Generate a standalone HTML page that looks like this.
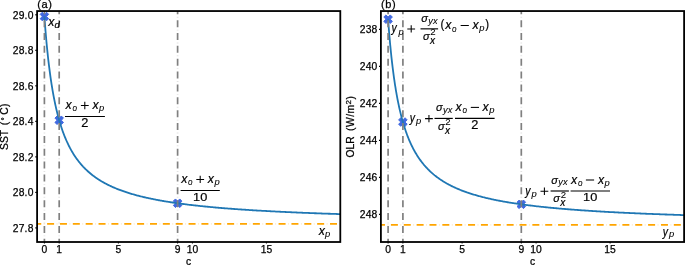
<!DOCTYPE html>
<html><head><meta charset="utf-8"><style>html,body{margin:0;padding:0;background:#fff;overflow:hidden}svg{display:block}text{stroke:#000;stroke-width:0.25px}.m text{stroke-width:0.2px}.m line,.m path{stroke:#000}</style></head>
<body><div style="will-change:transform">
<svg width="685" height="265" viewBox="0 0 685 265" font-family="&quot;Liberation Sans&quot;, sans-serif" stroke-linejoin="round">
<rect width="685" height="265" fill="#fff"/>
<clipPath id="clipa"><rect x="37.1" y="11.05" width="303.2" height="230.95"/></clipPath>
<g clip-path="url(#clipa)">
<line x1="34.24" y1="223.85" x2="355.30" y2="223.85" stroke="#ffa500" stroke-width="1.9" stroke-dasharray="7.0 5.86" stroke-dashoffset="0.00"/>
<line x1="34.24" y1="223.85" x2="355.30" y2="223.85" stroke="#ffa500" stroke-width="1.9" stroke-opacity="0.22" stroke-dasharray="0.9 11.96" stroke-dashoffset="-9.48"/>
<polygon points="46.54,12.21 48.69,14.36 46.54,16.50 48.69,18.64 46.54,20.79 44.40,18.64 42.26,20.79 40.11,18.64 42.26,16.50 40.11,14.36 42.26,12.21 44.40,14.36" fill="#4169e1" stroke="#4169e1" stroke-width="1.0" stroke-linejoin="round"/>
<polygon points="61.34,115.96 63.49,118.11 61.34,120.25 63.49,122.39 61.34,124.54 59.20,122.39 57.06,124.54 54.91,122.39 57.06,120.25 54.91,118.11 57.06,115.96 59.20,118.11" fill="#4169e1" stroke="#4169e1" stroke-width="1.0" stroke-linejoin="round"/>
<polygon points="179.74,198.96 181.89,201.11 179.74,203.25 181.89,205.39 179.74,207.54 177.60,205.39 175.46,207.54 173.31,205.39 175.46,203.25 173.31,201.11 175.46,198.96 177.60,201.11" fill="#4169e1" stroke="#4169e1" stroke-width="1.0" stroke-linejoin="round"/>
<polyline points="44.40,16.50 44.42,16.78 44.46,17.36 44.52,18.14 44.59,19.09 44.67,20.18 44.76,21.39 44.86,22.72 44.97,24.15 45.08,25.66 45.21,27.26 45.34,28.92 45.48,30.65 45.63,32.44 45.79,34.27 45.95,36.15 46.12,38.06 46.29,40.01 46.47,41.98 46.66,43.98 46.85,46.00 47.05,48.03 47.26,50.07 47.47,52.12 47.68,54.18 47.91,56.23 48.13,58.29 48.36,60.34 48.60,62.38 48.84,64.42 49.09,66.45 49.35,68.47 49.60,70.47 49.87,72.46 50.13,74.43 50.40,76.39 50.68,78.33 50.96,80.25 51.25,82.15 51.54,84.03 51.84,85.89 52.13,87.72 52.44,89.54 52.75,91.33 53.06,93.10 53.38,94.84 53.70,96.56 54.02,98.26 54.35,99.94 54.69,101.59 55.03,103.22 55.37,104.82 55.71,106.40 56.06,107.95 56.42,109.49 56.78,111.00 57.14,112.48 57.50,113.94 57.87,115.38 58.25,116.80 58.62,118.19 59.01,119.56 59.39,120.91 59.78,122.24 60.17,123.55 60.57,124.83 60.97,126.10 61.37,127.34 61.78,128.56 62.19,129.77 62.60,130.95 63.02,132.11 63.44,133.26 63.87,134.38 64.30,135.49 64.73,136.58 65.16,137.65 65.60,138.70 66.04,139.73 66.49,140.75 66.94,141.75 67.39,142.74 67.85,143.71 68.31,144.66 68.77,145.60 69.24,146.52 69.70,147.42 70.18,148.32 70.65,149.19 71.13,150.06 71.61,150.90 72.10,151.74 72.59,152.56 73.08,153.37 73.57,154.16 74.07,154.95 74.57,155.72 75.08,156.47 75.59,157.22 76.10,157.95 76.61,158.67 77.13,159.38 77.65,160.08 78.17,160.77 78.70,161.45 79.23,162.12 79.76,162.77 80.29,163.42 80.83,164.06 81.37,164.68 81.92,165.30 82.46,165.91 83.01,166.51 83.57,167.09 84.12,167.68 84.68,168.25 85.24,168.81 85.81,169.36 86.38,169.91 86.95,170.45 87.52,170.98 88.10,171.50 88.68,172.02 89.26,172.52 89.84,173.02 90.43,173.52 91.02,174.00 91.62,174.48 92.21,174.95 92.81,175.42 93.41,175.87 94.02,176.33 94.62,176.77 95.23,177.21 95.85,177.64 96.46,178.07 97.08,178.49 97.70,178.91 98.33,179.32 98.95,179.72 99.58,180.12 100.21,180.51 100.85,180.90 101.49,181.28 102.13,181.66 102.77,182.03 103.41,182.40 104.06,182.76 104.71,183.12 105.37,183.47 106.02,183.82 106.68,184.16 107.34,184.50 108.01,184.83 108.67,185.16 109.34,185.49 110.01,185.81 110.69,186.13 111.36,186.44 112.04,186.75 112.73,187.06 113.41,187.36 114.10,187.66 114.79,187.95 115.48,188.24 116.17,188.53 116.87,188.81 117.57,189.09 118.27,189.37 118.98,189.64 119.69,189.91 120.40,190.18 121.11,190.44 121.82,190.70 122.54,190.96 123.26,191.21 123.98,191.46 124.71,191.71 125.43,191.96 126.16,192.20 126.90,192.44 127.63,192.67 128.37,192.91 129.11,193.14 129.85,193.37 130.59,193.59 131.34,193.82 132.09,194.04 132.84,194.25 133.59,194.47 134.35,194.68 135.11,194.89 135.87,195.10 136.63,195.31 137.40,195.51 138.17,195.71 138.94,195.91 139.71,196.11 140.49,196.30 141.26,196.50 142.04,196.69 142.83,196.88 143.61,197.06 144.40,197.25 145.19,197.43 145.98,197.61 146.77,197.79 147.57,197.97 148.37,198.14 149.17,198.32 149.97,198.49 150.78,198.66 151.58,198.82 152.39,198.99 153.21,199.16 154.02,199.32 154.84,199.48 155.66,199.64 156.48,199.80 157.30,199.95 158.13,200.11 158.96,200.26 159.79,200.41 160.62,200.56 161.46,200.71 162.29,200.86 163.13,201.00 163.97,201.15 164.82,201.29 165.66,201.43 166.51,201.57 167.36,201.71 168.22,201.85 169.07,201.98 169.93,202.12 170.79,202.25 171.65,202.38 172.51,202.51 173.38,202.64 174.25,202.77 175.12,202.90 175.99,203.02 176.86,203.15 177.74,203.27 178.62,203.39 179.50,203.51 180.39,203.63 181.27,203.75 182.16,203.87 183.05,203.99 183.94,204.10 184.83,204.22 185.73,204.33 186.63,204.44 187.53,204.55 188.43,204.67 189.34,204.77 190.24,204.88 191.15,204.99 192.06,205.10 192.98,205.20 193.89,205.31 194.81,205.41 195.73,205.51 196.65,205.62 197.58,205.72 198.50,205.82 199.43,205.92 200.36,206.02 201.29,206.11 202.23,206.21 203.16,206.31 204.10,206.40 205.04,206.50 205.98,206.59 206.93,206.68 207.87,206.77 208.82,206.86 209.77,206.96 210.73,207.05 211.68,207.13 212.64,207.22 213.60,207.31 214.56,207.40 215.52,207.48 216.49,207.57 217.45,207.65 218.42,207.74 219.39,207.82 220.37,207.90 221.34,207.98 222.32,208.06 223.30,208.15 224.28,208.23 225.26,208.30 226.25,208.38 227.24,208.46 228.23,208.54 229.22,208.62 230.21,208.69 231.21,208.77 232.20,208.84 233.20,208.92 234.20,208.99 235.21,209.06 236.21,209.14 237.22,209.21 238.23,209.28 239.24,209.35 240.25,209.42 241.27,209.49 242.28,209.56 243.30,209.63 244.32,209.70 245.35,209.77 246.37,209.83 247.40,209.90 248.43,209.97 249.46,210.03 250.49,210.10 251.53,210.16 252.56,210.23 253.60,210.29 254.64,210.35 255.68,210.42 256.73,210.48 257.78,210.54 258.82,210.60 259.87,210.66 260.93,210.72 261.98,210.78 263.04,210.84 264.09,210.90 265.15,210.96 266.21,211.02 267.28,211.08 268.34,211.14 269.41,211.19 270.48,211.25 271.55,211.31 272.62,211.36 273.70,211.42 274.78,211.47 275.85,211.53 276.94,211.58 278.02,211.64 279.10,211.69 280.19,211.74 281.28,211.80 282.37,211.85 283.46,211.90 284.55,211.95 285.65,212.01 286.75,212.06 287.85,212.11 288.95,212.16 290.05,212.21 291.15,212.26 292.26,212.31 293.37,212.36 294.48,212.41 295.59,212.45 296.71,212.50 297.82,212.55 298.94,212.60 300.06,212.65 301.18,212.69 302.31,212.74 303.43,212.79 304.56,212.83 305.69,212.88 306.82,212.92 307.95,212.97 309.09,213.01 310.22,213.06 311.36,213.10 312.50,213.14 313.64,213.19 314.79,213.23 315.93,213.27 317.08,213.32 318.23,213.36 319.38,213.40 320.53,213.44 321.68,213.49 322.84,213.53 324.00,213.57 325.16,213.61 326.32,213.65 327.48,213.69 328.65,213.73 329.82,213.77 330.98,213.81 332.16,213.85 333.33,213.89 334.50,213.93 335.68,213.97 336.86,214.01 338.04,214.04 339.22,214.08 340.40,214.12" fill="none" stroke="#1f77b4" stroke-width="1.8" stroke-linejoin="round"/>
<line x1="44.40" y1="7.29" x2="44.40" y2="257.00" stroke="#808080" stroke-width="1.7" stroke-dasharray="7.0 5.86" stroke-dashoffset="0.00"/>
<line x1="44.40" y1="7.29" x2="44.40" y2="257.00" stroke="#808080" stroke-width="1.7" stroke-opacity="0.22" stroke-dasharray="0.9 11.96" stroke-dashoffset="-9.48"/>
<line x1="59.20" y1="7.29" x2="59.20" y2="257.00" stroke="#808080" stroke-width="1.7" stroke-dasharray="7.0 5.86" stroke-dashoffset="0.00"/>
<line x1="59.20" y1="7.29" x2="59.20" y2="257.00" stroke="#808080" stroke-width="1.7" stroke-opacity="0.22" stroke-dasharray="0.9 11.96" stroke-dashoffset="-9.48"/>
<line x1="177.60" y1="7.29" x2="177.60" y2="257.00" stroke="#808080" stroke-width="1.7" stroke-dasharray="7.0 5.86" stroke-dashoffset="0.00"/>
<line x1="177.60" y1="7.29" x2="177.60" y2="257.00" stroke="#808080" stroke-width="1.7" stroke-opacity="0.22" stroke-dasharray="0.9 11.96" stroke-dashoffset="-9.48"/>
</g>
<rect x="37.1" y="11.05" width="303.2" height="230.95" fill="none" stroke="#000" stroke-width="1.8" stroke-linejoin="miter"/>
<line x1="35.2" y1="14.8" x2="37.1" y2="14.8" stroke="#000" stroke-width="1.1"/>
<text x="33.60" y="18.50" font-size="10.3" text-anchor="end" letter-spacing="0.2">29.0</text>
<line x1="35.2" y1="50.32000000000001" x2="37.1" y2="50.32000000000001" stroke="#000" stroke-width="1.1"/>
<text x="33.60" y="54.02" font-size="10.3" text-anchor="end" letter-spacing="0.2">28.8</text>
<line x1="35.2" y1="85.84" x2="37.1" y2="85.84" stroke="#000" stroke-width="1.1"/>
<text x="33.60" y="89.54" font-size="10.3" text-anchor="end" letter-spacing="0.2">28.6</text>
<line x1="35.2" y1="121.36" x2="37.1" y2="121.36" stroke="#000" stroke-width="1.1"/>
<text x="33.60" y="125.06" font-size="10.3" text-anchor="end" letter-spacing="0.2">28.4</text>
<line x1="35.2" y1="156.88000000000002" x2="37.1" y2="156.88000000000002" stroke="#000" stroke-width="1.1"/>
<text x="33.60" y="160.58" font-size="10.3" text-anchor="end" letter-spacing="0.2">28.2</text>
<line x1="35.2" y1="192.40000000000003" x2="37.1" y2="192.40000000000003" stroke="#000" stroke-width="1.1"/>
<text x="33.60" y="196.10" font-size="10.3" text-anchor="end" letter-spacing="0.2">28.0</text>
<line x1="35.2" y1="227.92000000000002" x2="37.1" y2="227.92000000000002" stroke="#000" stroke-width="1.1"/>
<text x="33.60" y="231.62" font-size="10.3" text-anchor="end" letter-spacing="0.2">27.8</text>
<line x1="44.40" y1="242.0" x2="44.40" y2="243.5" stroke="#000" stroke-width="1"/>
<text x="44.40" y="253.20" font-size="10.3" text-anchor="middle">0</text>
<line x1="59.20" y1="242.0" x2="59.20" y2="243.5" stroke="#000" stroke-width="1"/>
<text x="59.20" y="253.20" font-size="10.3" text-anchor="middle">1</text>
<line x1="118.40" y1="242.0" x2="118.40" y2="243.5" stroke="#000" stroke-width="1"/>
<text x="118.40" y="253.20" font-size="10.3" text-anchor="middle">5</text>
<line x1="177.60" y1="242.0" x2="177.60" y2="243.5" stroke="#000" stroke-width="1"/>
<text x="177.60" y="253.20" font-size="10.3" text-anchor="middle">9</text>
<line x1="192.40" y1="242.0" x2="192.40" y2="243.5" stroke="#000" stroke-width="1"/>
<text x="192.40" y="253.20" font-size="10.3" text-anchor="middle">10</text>
<line x1="266.40" y1="242.0" x2="266.40" y2="243.5" stroke="#000" stroke-width="1"/>
<text x="266.40" y="253.20" font-size="10.3" text-anchor="middle">15</text>
<text x="188.70" y="264.90" font-size="10.3" text-anchor="middle">c</text>
<text x="37.30" y="7.80" font-size="11" letter-spacing="0.6">(a)</text>
<text transform="translate(8.4,149.9) rotate(-90)" font-size="10.3">SST</text>
<text transform="translate(8.4,103.0) rotate(-90)" font-size="10.3" text-anchor="end" letter-spacing="0.5">(<tspan font-size="8" dx="1" dy="-1.2">°</tspan><tspan dx="1.8" dy="1.2">C)</tspan></text>
<clipPath id="clipb"><rect x="380.9" y="11.05" width="303.20000000000005" height="230.95"/></clipPath>
<g clip-path="url(#clipb)">
<line x1="378.04" y1="224.90" x2="699.10" y2="224.90" stroke="#ffa500" stroke-width="1.9" stroke-dasharray="7.0 5.86" stroke-dashoffset="0.00"/>
<line x1="378.04" y1="224.90" x2="699.10" y2="224.90" stroke="#ffa500" stroke-width="1.9" stroke-opacity="0.22" stroke-dasharray="0.9 11.96" stroke-dashoffset="-9.48"/>
<polygon points="390.24,14.91 392.39,17.06 390.24,19.20 392.39,21.34 390.24,23.49 388.10,21.34 385.96,23.49 383.81,21.34 385.96,19.20 383.81,17.06 385.96,14.91 388.10,17.06" fill="#4169e1" stroke="#4169e1" stroke-width="1.0" stroke-linejoin="round"/>
<polygon points="405.04,117.76 407.19,119.91 405.04,122.05 407.19,124.19 405.04,126.34 402.90,124.19 400.76,126.34 398.61,124.19 400.76,122.05 398.61,119.91 400.76,117.76 402.90,119.91" fill="#4169e1" stroke="#4169e1" stroke-width="1.0" stroke-linejoin="round"/>
<polygon points="523.44,200.04 525.59,202.19 523.44,204.33 525.59,206.47 523.44,208.62 521.30,206.47 519.16,208.62 517.01,206.47 519.16,204.33 517.01,202.19 519.16,200.04 521.30,202.19" fill="#4169e1" stroke="#4169e1" stroke-width="1.0" stroke-linejoin="round"/>
<polyline points="388.10,19.20 388.12,19.48 388.16,20.05 388.22,20.83 388.29,21.76 388.37,22.84 388.46,24.05 388.56,25.36 388.67,26.78 388.78,28.28 388.91,29.86 389.04,31.51 389.18,33.23 389.33,35.00 389.49,36.82 389.65,38.68 389.82,40.58 389.99,42.51 390.17,44.46 390.36,46.44 390.55,48.44 390.75,50.46 390.96,52.48 391.17,54.51 391.38,56.55 391.61,58.59 391.83,60.63 392.06,62.66 392.30,64.69 392.54,66.71 392.79,68.72 393.05,70.72 393.30,72.70 393.57,74.68 393.83,76.63 394.10,78.57 394.38,80.49 394.66,82.40 394.95,84.28 395.24,86.14 395.54,87.98 395.83,89.80 396.14,91.60 396.45,93.38 396.76,95.13 397.08,96.86 397.40,98.57 397.72,100.25 398.05,101.91 398.39,103.55 398.73,105.16 399.07,106.75 399.41,108.32 399.76,109.86 400.12,111.38 400.48,112.88 400.84,114.35 401.20,115.80 401.57,117.22 401.95,118.63 402.32,120.01 402.71,121.37 403.09,122.71 403.48,124.02 403.87,125.32 404.27,126.59 404.67,127.85 405.07,129.08 405.48,130.29 405.89,131.48 406.30,132.66 406.72,133.81 407.14,134.94 407.57,136.06 408.00,137.16 408.43,138.24 408.86,139.30 409.30,140.34 409.74,141.37 410.19,142.38 410.64,143.37 411.09,144.34 411.55,145.30 412.01,146.25 412.47,147.18 412.94,148.09 413.40,148.99 413.88,149.87 414.35,150.74 414.83,151.60 415.31,152.44 415.80,153.27 416.29,154.08 416.78,154.88 417.27,155.67 417.77,156.45 418.27,157.21 418.78,157.96 419.29,158.70 419.80,159.43 420.31,160.14 420.83,160.84 421.35,161.54 421.87,162.22 422.40,162.89 422.93,163.55 423.46,164.20 423.99,164.85 424.53,165.48 425.07,166.10 425.62,166.71 426.16,167.31 426.71,167.90 427.27,168.49 427.82,169.06 428.38,169.63 428.94,170.19 429.51,170.74 430.08,171.28 430.65,171.81 431.22,172.34 431.80,172.86 432.38,173.37 432.96,173.87 433.54,174.37 434.13,174.85 434.72,175.34 435.32,175.81 435.91,176.28 436.51,176.74 437.11,177.19 437.72,177.64 438.32,178.08 438.93,178.52 439.55,178.95 440.16,179.37 440.78,179.79 441.40,180.20 442.03,180.60 442.65,181.00 443.28,181.40 443.91,181.79 444.55,182.17 445.19,182.55 445.83,182.92 446.47,183.29 447.11,183.66 447.76,184.02 448.41,184.37 449.07,184.72 449.72,185.06 450.38,185.40 451.04,185.74 451.71,186.07 452.37,186.40 453.04,186.72 453.71,187.04 454.39,187.36 455.06,187.67 455.74,187.97 456.43,188.28 457.11,188.58 457.80,188.87 458.49,189.16 459.18,189.45 459.87,189.74 460.57,190.02 461.27,190.29 461.97,190.57 462.68,190.84 463.39,191.11 464.10,191.37 464.81,191.63 465.52,191.89 466.24,192.14 466.96,192.40 467.68,192.64 468.41,192.89 469.13,193.13 469.86,193.37 470.60,193.61 471.33,193.84 472.07,194.08 472.81,194.31 473.55,194.53 474.29,194.76 475.04,194.98 475.79,195.20 476.54,195.41 477.29,195.63 478.05,195.84 478.81,196.05 479.57,196.25 480.33,196.46 481.10,196.66 481.87,196.86 482.64,197.06 483.41,197.25 484.19,197.45 484.96,197.64 485.74,197.83 486.53,198.01 487.31,198.20 488.10,198.38 488.89,198.56 489.68,198.74 490.47,198.92 491.27,199.09 492.07,199.27 492.87,199.44 493.67,199.61 494.48,199.78 495.28,199.94 496.09,200.11 496.91,200.27 497.72,200.43 498.54,200.59 499.36,200.75 500.18,200.91 501.00,201.06 501.83,201.21 502.66,201.37 503.49,201.52 504.32,201.66 505.16,201.81 505.99,201.96 506.83,202.10 507.67,202.24 508.52,202.39 509.36,202.53 510.21,202.66 511.06,202.80 511.92,202.94 512.77,203.07 513.63,203.21 514.49,203.34 515.35,203.47 516.21,203.60 517.08,203.73 517.95,203.85 518.82,203.98 519.69,204.10 520.56,204.23 521.44,204.35 522.32,204.47 523.20,204.59 524.09,204.71 524.97,204.83 525.86,204.94 526.75,205.06 527.64,205.18 528.53,205.29 529.43,205.40 530.33,205.51 531.23,205.62 532.13,205.73 533.04,205.84 533.94,205.95 534.85,206.06 535.76,206.16 536.68,206.27 537.59,206.37 538.51,206.47 539.43,206.57 540.35,206.68 541.28,206.78 542.20,206.88 543.13,206.97 544.06,207.07 544.99,207.17 545.93,207.26 546.86,207.36 547.80,207.45 548.74,207.55 549.68,207.64 550.63,207.73 551.57,207.82 552.52,207.91 553.47,208.00 554.43,208.09 555.38,208.18 556.34,208.27 557.30,208.35 558.26,208.44 559.22,208.53 560.19,208.61 561.15,208.69 562.12,208.78 563.09,208.86 564.07,208.94 565.04,209.02 566.02,209.10 567.00,209.18 567.98,209.26 568.96,209.34 569.95,209.42 570.94,209.50 571.93,209.57 572.92,209.65 573.91,209.72 574.91,209.80 575.90,209.87 576.90,209.95 577.90,210.02 578.91,210.09 579.91,210.17 580.92,210.24 581.93,210.31 582.94,210.38 583.95,210.45 584.97,210.52 585.98,210.59 587.00,210.65 588.02,210.72 589.05,210.79 590.07,210.86 591.10,210.92 592.13,210.99 593.16,211.05 594.19,211.12 595.23,211.18 596.26,211.25 597.30,211.31 598.34,211.37 599.38,211.43 600.43,211.50 601.48,211.56 602.52,211.62 603.57,211.68 604.63,211.74 605.68,211.80 606.74,211.86 607.79,211.92 608.85,211.98 609.91,212.03 610.98,212.09 612.04,212.15 613.11,212.21 614.18,212.26 615.25,212.32 616.32,212.37 617.40,212.43 618.48,212.48 619.55,212.54 620.64,212.59 621.72,212.65 622.80,212.70 623.89,212.75 624.98,212.80 626.07,212.86 627.16,212.91 628.25,212.96 629.35,213.01 630.45,213.06 631.55,213.11 632.65,213.16 633.75,213.21 634.85,213.26 635.96,213.31 637.07,213.36 638.18,213.41 639.29,213.45 640.41,213.50 641.52,213.55 642.64,213.60 643.76,213.64 644.88,213.69 646.01,213.74 647.13,213.78 648.26,213.83 649.39,213.87 650.52,213.92 651.65,213.96 652.79,214.01 653.92,214.05 655.06,214.10 656.20,214.14 657.34,214.18 658.49,214.22 659.63,214.27 660.78,214.31 661.93,214.35 663.08,214.39 664.23,214.44 665.38,214.48 666.54,214.52 667.70,214.56 668.86,214.60 670.02,214.64 671.18,214.68 672.35,214.72 673.52,214.76 674.68,214.80 675.86,214.84 677.03,214.88 678.20,214.92 679.38,214.95 680.56,214.99 681.74,215.03 682.92,215.07 684.10,215.10" fill="none" stroke="#1f77b4" stroke-width="1.8" stroke-linejoin="round"/>
<line x1="388.10" y1="7.29" x2="388.10" y2="257.00" stroke="#808080" stroke-width="1.7" stroke-dasharray="7.0 5.86" stroke-dashoffset="0.00"/>
<line x1="388.10" y1="7.29" x2="388.10" y2="257.00" stroke="#808080" stroke-width="1.7" stroke-opacity="0.22" stroke-dasharray="0.9 11.96" stroke-dashoffset="-9.48"/>
<line x1="402.90" y1="7.29" x2="402.90" y2="257.00" stroke="#808080" stroke-width="1.7" stroke-dasharray="7.0 5.86" stroke-dashoffset="0.00"/>
<line x1="402.90" y1="7.29" x2="402.90" y2="257.00" stroke="#808080" stroke-width="1.7" stroke-opacity="0.22" stroke-dasharray="0.9 11.96" stroke-dashoffset="-9.48"/>
<line x1="521.30" y1="7.29" x2="521.30" y2="257.00" stroke="#808080" stroke-width="1.7" stroke-dasharray="7.0 5.86" stroke-dashoffset="0.00"/>
<line x1="521.30" y1="7.29" x2="521.30" y2="257.00" stroke="#808080" stroke-width="1.7" stroke-opacity="0.22" stroke-dasharray="0.9 11.96" stroke-dashoffset="-9.48"/>
</g>
<rect x="380.9" y="11.05" width="303.20000000000005" height="230.95" fill="none" stroke="#000" stroke-width="1.8" stroke-linejoin="miter"/>
<line x1="379.0" y1="29.4" x2="380.9" y2="29.4" stroke="#000" stroke-width="1.1"/>
<text x="377.50" y="33.30" font-size="10.3" text-anchor="end" letter-spacing="0.2">238</text>
<line x1="379.0" y1="66.4" x2="380.9" y2="66.4" stroke="#000" stroke-width="1.1"/>
<text x="377.50" y="70.30" font-size="10.3" text-anchor="end" letter-spacing="0.2">240</text>
<line x1="379.0" y1="103.4" x2="380.9" y2="103.4" stroke="#000" stroke-width="1.1"/>
<text x="377.50" y="107.30" font-size="10.3" text-anchor="end" letter-spacing="0.2">242</text>
<line x1="379.0" y1="140.4" x2="380.9" y2="140.4" stroke="#000" stroke-width="1.1"/>
<text x="377.50" y="144.30" font-size="10.3" text-anchor="end" letter-spacing="0.2">244</text>
<line x1="379.0" y1="177.4" x2="380.9" y2="177.4" stroke="#000" stroke-width="1.1"/>
<text x="377.50" y="181.30" font-size="10.3" text-anchor="end" letter-spacing="0.2">246</text>
<line x1="379.0" y1="214.4" x2="380.9" y2="214.4" stroke="#000" stroke-width="1.1"/>
<text x="377.50" y="218.30" font-size="10.3" text-anchor="end" letter-spacing="0.2">248</text>
<line x1="388.10" y1="242.0" x2="388.10" y2="243.5" stroke="#000" stroke-width="1"/>
<text x="388.10" y="253.20" font-size="10.3" text-anchor="middle">0</text>
<line x1="402.90" y1="242.0" x2="402.90" y2="243.5" stroke="#000" stroke-width="1"/>
<text x="402.90" y="253.20" font-size="10.3" text-anchor="middle">1</text>
<line x1="462.10" y1="242.0" x2="462.10" y2="243.5" stroke="#000" stroke-width="1"/>
<text x="462.10" y="253.20" font-size="10.3" text-anchor="middle">5</text>
<line x1="521.30" y1="242.0" x2="521.30" y2="243.5" stroke="#000" stroke-width="1"/>
<text x="521.30" y="253.20" font-size="10.3" text-anchor="middle">9</text>
<line x1="536.10" y1="242.0" x2="536.10" y2="243.5" stroke="#000" stroke-width="1"/>
<text x="536.10" y="253.20" font-size="10.3" text-anchor="middle">10</text>
<line x1="610.10" y1="242.0" x2="610.10" y2="243.5" stroke="#000" stroke-width="1"/>
<text x="610.10" y="253.20" font-size="10.3" text-anchor="middle">15</text>
<text x="532.50" y="264.90" font-size="10.3" text-anchor="middle">c</text>
<text x="381.10" y="7.80" font-size="11" letter-spacing="0.6">(b)</text>
<text transform="translate(354.4,157.5) rotate(-90)" font-size="10.3">OLR</text>
<text transform="translate(354.4,95.5) rotate(-90)" font-size="10.3" text-anchor="end" letter-spacing="0.5">(W/m<tspan dy="-3.8" font-size="8">2</tspan><tspan dy="3.8">)</tspan></text>
<g class="m">
<text x="48.16" y="25.80" font-size="13.0" font-style="italic" textLength="6.17" lengthAdjust="spacingAndGlyphs">x</text>
<text x="54.43" y="27.75" font-size="9.9" font-style="italic" textLength="5.29" lengthAdjust="spacingAndGlyphs">d</text>
<text x="65.56" y="109.10" font-size="13.0" font-style="italic" textLength="6.17" lengthAdjust="spacingAndGlyphs">x</text>
<text x="72.46" y="111.11" font-size="8.6" font-style="italic" style="stroke-width:0.08px" textLength="4.54" lengthAdjust="spacingAndGlyphs">o</text>
<text x="92.56" y="109.10" font-size="13.0" font-style="italic" textLength="6.17" lengthAdjust="spacingAndGlyphs">x</text>
<text x="99.09" y="111.28" font-size="8.2" font-style="italic" style="stroke-width:0.08px" textLength="5.24" lengthAdjust="spacingAndGlyphs">p</text>
<text x="81.30" y="127.10" font-size="12.3" textLength="7.11" lengthAdjust="spacingAndGlyphs">2</text>
<text x="181.21" y="183.20" font-size="13.0" font-style="italic" textLength="6.17" lengthAdjust="spacingAndGlyphs">x</text>
<text x="188.11" y="184.91" font-size="8.6" font-style="italic" style="stroke-width:0.08px" textLength="4.54" lengthAdjust="spacingAndGlyphs">o</text>
<text x="207.81" y="183.20" font-size="13.0" font-style="italic" textLength="6.17" lengthAdjust="spacingAndGlyphs">x</text>
<text x="214.64" y="185.08" font-size="8.2" font-style="italic" style="stroke-width:0.08px" textLength="5.24" lengthAdjust="spacingAndGlyphs">p</text>
<text x="193.11" y="200.68" font-size="11.6" textLength="14.19" lengthAdjust="spacingAndGlyphs">10</text>
<text x="318.66" y="234.70" font-size="13.0" font-style="italic" textLength="6.17" lengthAdjust="spacingAndGlyphs">x</text>
<text x="325.14" y="236.68" font-size="8.2" font-style="italic" style="stroke-width:0.08px" textLength="5.24" lengthAdjust="spacingAndGlyphs">p</text>
<text x="662.79" y="235.62" font-size="12.3" font-style="italic" textLength="5.23" lengthAdjust="spacingAndGlyphs">y</text>
<text x="669.14" y="237.48" font-size="8.2" font-style="italic" style="stroke-width:0.08px" textLength="5.24" lengthAdjust="spacingAndGlyphs">p</text>
<text x="391.54" y="32.02" font-size="12.3" font-style="italic" textLength="5.23" lengthAdjust="spacingAndGlyphs">y</text>
<text x="398.64" y="34.88" font-size="8.2" font-style="italic" style="stroke-width:0.08px" textLength="5.24" lengthAdjust="spacingAndGlyphs">p</text>
<text x="421.36" y="21.58" font-size="11.6" font-style="italic" textLength="6.65" lengthAdjust="spacingAndGlyphs">σ</text>
<text x="428.37" y="23.55" font-size="8.8" font-style="italic" style="stroke-width:0.08px" textLength="9.24" lengthAdjust="spacingAndGlyphs">yx</text>
<text x="423.11" y="40.38" font-size="11.6" font-style="italic" textLength="6.65" lengthAdjust="spacingAndGlyphs">σ</text>
<text x="430.33" y="35.30" font-size="8.9" style="stroke-width:0.08px" textLength="5.35" lengthAdjust="spacingAndGlyphs">2</text>
<text x="429.94" y="44.10" font-size="10.3" font-style="italic" textLength="5.07" lengthAdjust="spacingAndGlyphs">x</text>
<text x="440.38" y="28.31" font-size="12.8" textLength="3.84" lengthAdjust="spacingAndGlyphs">(</text>
<text x="445.36" y="29.20" font-size="13.0" font-style="italic" textLength="6.17" lengthAdjust="spacingAndGlyphs">x</text>
<text x="452.11" y="31.51" font-size="8.6" font-style="italic" style="stroke-width:0.08px" textLength="4.54" lengthAdjust="spacingAndGlyphs">o</text>
<text x="472.51" y="29.20" font-size="13.0" font-style="italic" textLength="6.17" lengthAdjust="spacingAndGlyphs">x</text>
<text x="479.34" y="31.08" font-size="8.2" font-style="italic" style="stroke-width:0.08px" textLength="5.24" lengthAdjust="spacingAndGlyphs">p</text>
<text x="485.34" y="28.31" font-size="12.8" textLength="3.84" lengthAdjust="spacingAndGlyphs">)</text>
<text x="409.79" y="122.42" font-size="12.3" font-style="italic" textLength="5.23" lengthAdjust="spacingAndGlyphs">y</text>
<text x="416.04" y="124.48" font-size="8.2" font-style="italic" style="stroke-width:0.08px" textLength="5.24" lengthAdjust="spacingAndGlyphs">p</text>
<text x="435.91" y="110.88" font-size="11.6" font-style="italic" textLength="6.65" lengthAdjust="spacingAndGlyphs">σ</text>
<text x="443.07" y="112.85" font-size="8.8" font-style="italic" style="stroke-width:0.08px" textLength="9.24" lengthAdjust="spacingAndGlyphs">yx</text>
<text x="438.11" y="130.38" font-size="11.6" font-style="italic" textLength="6.65" lengthAdjust="spacingAndGlyphs">σ</text>
<text x="445.33" y="125.00" font-size="8.9" style="stroke-width:0.08px" textLength="5.35" lengthAdjust="spacingAndGlyphs">2</text>
<text x="444.94" y="133.80" font-size="10.3" font-style="italic" textLength="5.07" lengthAdjust="spacingAndGlyphs">x</text>
<text x="455.51" y="110.90" font-size="13.0" font-style="italic" textLength="6.17" lengthAdjust="spacingAndGlyphs">x</text>
<text x="462.41" y="112.91" font-size="8.6" font-style="italic" style="stroke-width:0.08px" textLength="4.54" lengthAdjust="spacingAndGlyphs">o</text>
<text x="482.56" y="111.20" font-size="13.0" font-style="italic" textLength="6.17" lengthAdjust="spacingAndGlyphs">x</text>
<text x="489.24" y="113.08" font-size="8.2" font-style="italic" style="stroke-width:0.08px" textLength="5.24" lengthAdjust="spacingAndGlyphs">p</text>
<text x="471.30" y="128.60" font-size="12.3" textLength="7.11" lengthAdjust="spacingAndGlyphs">2</text>
<text x="525.34" y="195.42" font-size="12.3" font-style="italic" textLength="5.23" lengthAdjust="spacingAndGlyphs">y</text>
<text x="531.59" y="197.18" font-size="8.2" font-style="italic" style="stroke-width:0.08px" textLength="5.24" lengthAdjust="spacingAndGlyphs">p</text>
<text x="551.36" y="183.68" font-size="11.6" font-style="italic" textLength="6.65" lengthAdjust="spacingAndGlyphs">σ</text>
<text x="558.37" y="185.35" font-size="8.8" font-style="italic" style="stroke-width:0.08px" textLength="9.24" lengthAdjust="spacingAndGlyphs">yx</text>
<text x="553.36" y="202.38" font-size="11.6" font-style="italic" textLength="6.65" lengthAdjust="spacingAndGlyphs">σ</text>
<text x="560.73" y="197.60" font-size="8.9" style="stroke-width:0.08px" textLength="5.35" lengthAdjust="spacingAndGlyphs">2</text>
<text x="560.19" y="206.10" font-size="10.3" font-style="italic" textLength="5.07" lengthAdjust="spacingAndGlyphs">x</text>
<text x="571.06" y="183.70" font-size="13.0" font-style="italic" textLength="6.17" lengthAdjust="spacingAndGlyphs">x</text>
<text x="577.96" y="185.71" font-size="8.6" font-style="italic" style="stroke-width:0.08px" textLength="4.54" lengthAdjust="spacingAndGlyphs">o</text>
<text x="597.96" y="184.20" font-size="13.0" font-style="italic" textLength="6.17" lengthAdjust="spacingAndGlyphs">x</text>
<text x="604.49" y="185.78" font-size="8.2" font-style="italic" style="stroke-width:0.08px" textLength="5.24" lengthAdjust="spacingAndGlyphs">p</text>
<text x="583.11" y="201.28" font-size="11.6" textLength="14.19" lengthAdjust="spacingAndGlyphs">10</text>
<path d="M80.90 105.50H88.70M84.80 101.80V109.20" stroke-width="1.05" fill="none"/>
<path d="M196.30 179.40H204.10M200.20 175.70V183.10" stroke-width="1.05" fill="none"/>
<path d="M407.30 28.90H415.10M411.20 25.20V32.60" stroke-width="1.05" fill="none"/>
<path d="M425.05 118.60H432.85M428.95 114.90V122.30" stroke-width="1.05" fill="none"/>
<path d="M540.50 191.20H548.30M544.40 187.50V194.90" stroke-width="1.05" fill="none"/>
<line x1="460.65" y1="25.50" x2="468.85" y2="25.50" stroke-width="1.05"/>
<line x1="470.80" y1="107.40" x2="479.00" y2="107.40" stroke-width="1.05"/>
<line x1="585.90" y1="180.00" x2="594.10" y2="180.00" stroke-width="1.05"/>
<line x1="65.00" y1="116.45" x2="104.90" y2="116.45" stroke-width="1.15"/>
<line x1="180.60" y1="190.45" x2="219.80" y2="190.45" stroke-width="1.15"/>
<line x1="420.50" y1="28.85" x2="438.10" y2="28.85" stroke-width="1.15"/>
<line x1="434.50" y1="118.40" x2="452.80" y2="118.40" stroke-width="1.15"/>
<line x1="455.00" y1="118.40" x2="494.60" y2="118.40" stroke-width="1.15"/>
<line x1="550.60" y1="191.00" x2="568.90" y2="191.00" stroke-width="1.15"/>
<line x1="570.60" y1="191.00" x2="610.00" y2="191.00" stroke-width="1.15"/>
</g>
</svg>
</div></body></html>
